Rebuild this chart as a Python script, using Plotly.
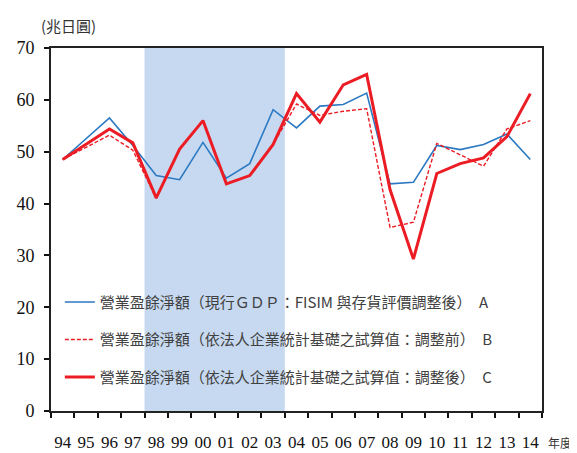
import plotly.graph_objects as go

years = ["94", "95", "96", "97", "98", "99", "00", "01", "02", "03", "04",
         "05", "06", "07", "08", "09", "10", "11", "12", "13", "14"]

series_a = [48.5, 52.5, 56.5, 51.2, 45.4, 44.6, 51.8, 44.9, 47.7, 58.1, 54.6,
            58.8, 59.1, 61.3, 43.8, 44.1, 51.2, 50.4, 51.4, 53.4, 48.5]
series_b = [48.5, 50.8, 53.2, 50.3, 41.0, 50.5, 56.0, 43.8, 45.4, 51.4, 59.2,
            57.0, 57.8, 58.3, 35.4, 36.4, 51.6, 49.4, 47.2, 54.4, 56.0]
series_c = [48.5, 51.5, 54.4, 51.7, 41.1, 50.5, 56.0, 43.8, 45.4, 51.4, 61.2,
            55.7, 62.9, 64.9, 42.7, 29.3, 45.8, 47.7, 48.8, 52.9, 61.2]

name_a = "營業盈餘淨額（現行ＧＤＰ：FISIM 與存貨評價調整後）　A"
name_b = "營業盈餘淨額（依法人企業統計基礎之試算值：調整前）　B"
name_c = "營業盈餘淨額（依法人企業統計基礎之試算值：調整後）　C"

shade_start, shade_end = "98", "03"
unit_label = "(兆日圓)"
x_unit = "年度"

blue = "#2b79c2"
red = "#ec1c24"

fig = go.Figure()
fig.add_trace(go.Scatter(x=years, y=series_a, mode="lines", name=name_a,
                         legendgroup="a",
                         line=dict(color=blue, width=1.6)))
fig.add_trace(go.Scatter(x=years, y=series_b, mode="lines", name=name_b,
                         legendgroup="b",
                         line=dict(color=red, width=1.4, dash="4px,2px")))
fig.add_trace(go.Scatter(x=years, y=series_c, mode="lines", name=name_c,
                         legendgroup="c",
                         line=dict(color=red, width=3)))

i0 = years.index(shade_start) - 0.5
i1 = years.index(shade_end) + 0.5
fig.add_shape(type="rect", xref="x", yref="paper", x0=i0, x1=i1, y0=0, y1=1,
              fillcolor="#c6d9f0", line=dict(width=0), layer="below")

fig.add_annotation(text=unit_label, xref="paper", yref="paper",
                   x=-0.024, y=1.062, xanchor="left", yanchor="middle",
                   showarrow=False,
                   font=dict(family="Noto Sans CJK TC", size=15, color="#333"))
fig.add_annotation(text=x_unit, xref="paper", yref="paper",
                   x=1.036, y=-0.088, xanchor="center", yanchor="middle",
                   showarrow=False,
                   font=dict(family="Noto Sans CJK TC", size=12, color="#333"))

# page body adds an 8px offset, so the figure is sized to fit the window
fig.update_layout(
    width=569, height=445,
    margin=dict(l=43, r=35, t=40, b=42, autoexpand=False),
    paper_bgcolor="white", plot_bgcolor="white",
    showlegend=True,
    legend=dict(x=0.018, y=0.345, xanchor="left", yanchor="top",
                bgcolor="rgba(0,0,0,0)", borderwidth=0,
                tracegroupgap=15,
                font=dict(family="Noto Sans CJK TC", size=15, color="#404040")),
    font=dict(family="Liberation Serif", size=17, color="#111"),
)
fig.update_xaxes(type="category", range=[-0.5, len(years) - 0.5],
                 tickson="boundaries", ticks="outside", ticklen=5,
                 tickcolor="#111", tickwidth=1.5, tickangle=0,
                 automargin=False,
                 showline=True, linecolor="#222", linewidth=2, mirror=True,
                 showgrid=False, ticklabelstandoff=15,
                 tickfont=dict(family="Liberation Serif", size=17, color="#111"))
fig.update_yaxes(range=[0, 70], dtick=10, ticks="outside", ticklen=5,
                 tickcolor="#111", tickwidth=1.5, automargin=False,
                 showline=True, linecolor="#222", linewidth=2, mirror=True,
                 showgrid=False, zeroline=False, ticklabelstandoff=6,
                 tickfont=dict(family="Liberation Serif", size=18, color="#111"))

fig.write_html("out.html")
